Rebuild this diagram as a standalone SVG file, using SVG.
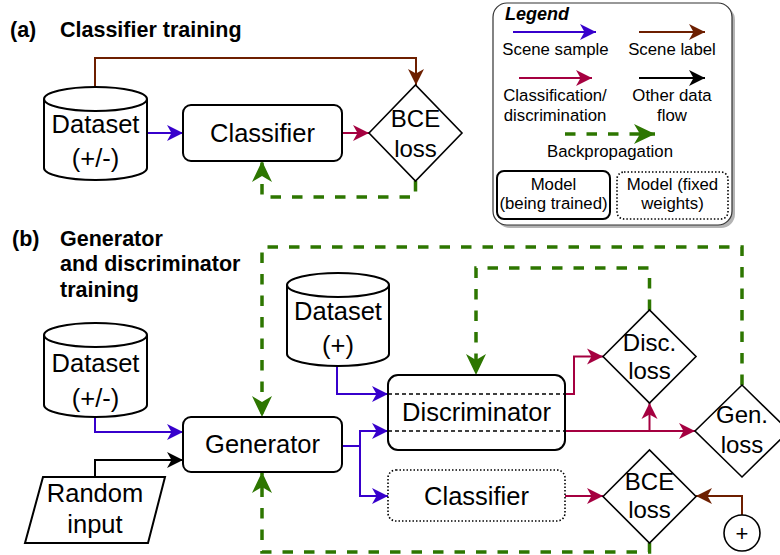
<svg xmlns="http://www.w3.org/2000/svg" width="780" height="555" viewBox="0 0 780 555">
<style>
text{font-family:"Liberation Sans",Arial,sans-serif;fill:#000}
.title{font-size:21.5px;font-weight:bold}
.node{font-size:25.5px;text-anchor:middle}
.dia{font-size:24px;text-anchor:middle}
.leg{font-size:16.8px;text-anchor:middle}
.shape{fill:#fff;stroke:#000;stroke-width:2}
.dshape{fill:#fff;stroke:#000;stroke-width:1.6}
.dotted{fill:#fff;stroke:#000;stroke-width:1.6;stroke-dasharray:1.5 2}
.blue{fill:none;stroke:#3700CC;stroke-width:2;marker-end:url(#mBlue)}
.red{fill:none;stroke:#A50040;stroke-width:2;marker-end:url(#mRed)}
.brown{fill:none;stroke:#6D1F00;stroke-width:2;marker-end:url(#mBrown)}
.black{fill:none;stroke:#000;stroke-width:2;marker-end:url(#mBlack)}
.green{fill:none;stroke:#2D7600;stroke-width:3.5;stroke-dasharray:10.5 11;marker-end:url(#mGreen)}
.inner{fill:none;stroke:#000;stroke-width:1.5;stroke-dasharray:4 3}
</style>
<defs>
<marker id="mBlue" markerUnits="userSpaceOnUse" viewBox="0 0 18 18" markerWidth="18" markerHeight="18" refX="17" refY="9" orient="auto"><path d="M1,1 L17,9 L1,17 L5.5,9 Z" fill="#3700CC"/></marker>
<marker id="mRed" markerUnits="userSpaceOnUse" viewBox="0 0 18 18" markerWidth="18" markerHeight="18" refX="17" refY="9" orient="auto"><path d="M1,1 L17,9 L1,17 L5.5,9 Z" fill="#A50040"/></marker>
<marker id="mBrown" markerUnits="userSpaceOnUse" viewBox="0 0 18 18" markerWidth="18" markerHeight="18" refX="17" refY="9" orient="auto"><path d="M1,1 L17,9 L1,17 L5.5,9 Z" fill="#6D1F00"/></marker>
<marker id="mBlack" markerUnits="userSpaceOnUse" viewBox="0 0 18 18" markerWidth="18" markerHeight="18" refX="17" refY="9" orient="auto"><path d="M1,1 L17,9 L1,17 L5.5,9 Z" fill="#000"/></marker>
<marker id="mGreen" markerUnits="userSpaceOnUse" viewBox="0 0 22 22" markerWidth="22" markerHeight="22" refX="21" refY="11" orient="auto"><path d="M0,1 L21,11 L0,21 L6,11 Z" fill="#2D7600"/></marker>
</defs>

<!-- titles -->
<text class="title" x="10" y="37">(a)</text>
<text class="title" x="60" y="37">Classifier training</text>
<text class="title" x="12" y="246">(b)</text>
<text class="title" x="60" y="246">Generator</text>
<text class="title" x="60" y="271">and discriminator</text>
<text class="title" x="60" y="297">training</text>

<!-- legend -->
<g id="legend">
<rect x="496" y="6" width="239" height="222" rx="14" fill="#b4b4b4"/>
<rect x="493" y="3" width="239" height="222" rx="14" fill="#fff" stroke="#333" stroke-width="1.2"/>
<text x="505" y="20" style="font-size:18px;font-weight:bold;font-style:italic">Legend</text>
<path class="blue" d="M513,32 H596"/>
<text class="leg" x="555.5" y="55">Scene sample</text>
<path class="brown" d="M639,32 H705"/>
<text class="leg" x="672" y="55">Scene label</text>
<path class="red" d="M519,78 H592"/>
<text class="leg" x="555" y="101">Classification/</text>
<text class="leg" x="555" y="121">discrimination</text>
<path class="black" d="M639,78 H705"/>
<text class="leg" x="672" y="101">Other data</text>
<text class="leg" x="672" y="121">flow</text>
<path class="green" d="M565,134 H655"/>
<text class="leg" x="610" y="157">Backpropagation</text>
<rect class="shape" x="497" y="171" width="113" height="48" rx="7"/>
<text class="leg" x="553.5" y="190">Model</text>
<text class="leg" x="553.5" y="209">(being trained)</text>
<rect class="dotted" x="617" y="172" width="111" height="47" rx="7"/>
<text class="leg" x="672.5" y="190">Model (fixed</text>
<text class="leg" x="672.5" y="209">weights)</text>
</g>

<!-- connectors -->
<g id="connectors">
<path class="brown" d="M95,87 V58 H416 V85"/>
<path class="blue" d="M147,133 H183"/>
<path class="red" d="M342,133 H369"/>
<path class="green" d="M415.5,181 V197 H262 V161"/>

<path class="green" d="M742,385 V247 H262 V417"/>
<path class="green" d="M649.5,543 V552 H262 V472"/>
<path class="green" d="M649.5,310 V268 H476 V375"/>
<path class="blue" d="M95,417 V432 H183"/>
<path class="black" d="M95,477 V460 H183"/>
<path class="blue" d="M337,366 V394 H388"/>
<path class="blue" d="M342,446 H360 V431 H388"/>
<path class="blue" d="M360,446 V496 H388"/>
<path class="red" d="M565,394 H574 V356.5 H603"/>
<path class="red" d="M565,431 H695"/>
<path class="red" d="M649.5,431 V403"/>
<path class="red" d="M565,496 H603"/>
<path class="brown" d="M742,515 V496 H696"/>
</g>

<!-- (a) nodes -->
<g id="dataset-a">
<path class="shape" d="M44,99 A51.5,12 0 0 1 147,99 A51.5,12 0 0 1 44,99 Z M44,99 V168 A51.5,12 0 0 0 147,168 V99"/>
<text class="node" x="95.5" y="133">Dataset</text>
<text class="node" x="95.5" y="167">(+/-)</text>
</g>
<g id="classifier-a">
<rect class="shape" x="183" y="105" width="159" height="56" rx="8"/>
<text class="node" x="262.5" y="142">Classifier</text>
</g>
<g id="bce-a">
<polygon class="dshape" points="369,133 415.5,85 462,133 415.5,181"/>
<text class="dia" x="415.5" y="127">BCE</text>
<text class="dia" x="415.5" y="157">loss</text>
</g>

<!-- (b) nodes -->
<g id="dataset-b">
<path class="shape" d="M44,335 A51.5,12 0 0 1 147,335 A51.5,12 0 0 1 44,335 Z M44,335 V405 A51.5,12 0 0 0 147,405 V335"/>
<text class="node" x="95.5" y="372">Dataset</text>
<text class="node" x="95.5" y="407">(+/-)</text>
</g>
<g id="dataset-pos">
<path class="shape" d="M287,285 A51,12 0 0 1 389,285 A51,12 0 0 1 287,285 Z M287,285 V354 A51,12 0 0 0 389,354 V285"/>
<text class="node" x="338" y="320">Dataset</text>
<text class="node" x="338" y="354">(+)</text>
</g>
<g id="random-input">
<polygon class="shape" points="43,477 165,477 148,543 25,543"/>
<text class="node" x="95" y="502">Random</text>
<text class="node" x="95" y="533">input</text>
</g>
<g id="generator">
<rect class="shape" x="183" y="417" width="159" height="55" rx="8"/>
<text class="node" x="262.5" y="453">Generator</text>
</g>
<g id="discriminator">
<rect class="shape" x="388" y="375" width="177" height="75" rx="10"/>
<path class="inner" d="M388,394 H565 M388,431 H565"/>
<text class="node" x="476.5" y="421">Discriminator</text>
</g>
<g id="classifier-b">
<rect class="dotted" x="388" y="470" width="177" height="51" rx="8"/>
<text class="node" x="476.5" y="505">Classifier</text>
</g>
<g id="disc-loss">
<polygon class="dshape" points="603,356.5 649.5,310 696,356.5 649.5,403"/>
<text class="dia" x="649.5" y="351">Disc.</text>
<text class="dia" x="649.5" y="379">loss</text>
</g>
<g id="gen-loss">
<polygon class="dshape" points="695,431 742,385 789,431 742,477"/>
<text class="dia" x="742" y="423">Gen.</text>
<text class="dia" x="742" y="453">loss</text>
</g>
<g id="bce-b">
<polygon class="dshape" points="603,496.5 649.5,450 696,496.5 649.5,543"/>
<text class="dia" x="649.5" y="490">BCE</text>
<text class="dia" x="649.5" y="518">loss</text>
</g>
<g id="positive">
<circle class="dshape" cx="742" cy="533" r="18"/>
<text x="742" y="541" style="font-size:22px;text-anchor:middle">+</text>
</g>
</svg>
